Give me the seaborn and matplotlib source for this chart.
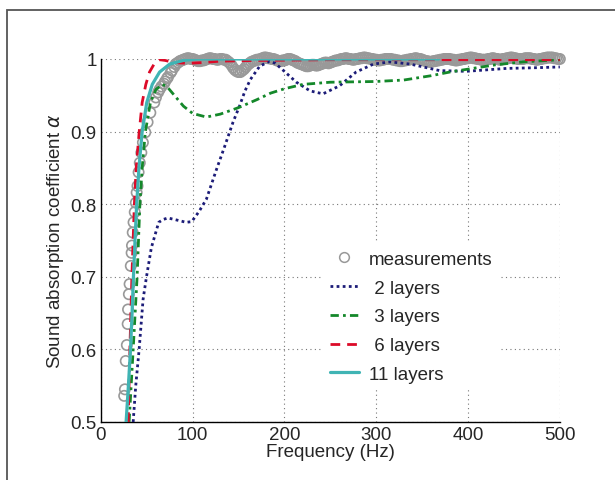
import numpy as np
import pandas as pd
import matplotlib
matplotlib.use("Agg")
import matplotlib.pyplot as plt
import seaborn as sns
from matplotlib.lines import Line2D
from matplotlib.patches import Rectangle

# measured absorption (read off the picture)
# steep part below 84 Hz
meas_f_low = [25.4, 26.2, 27.1, 28.3, 29.2, 29.6, 30.5, 31.3, 32.6, 33.5, 33.9, 34.7, 35.6,
              36.9, 38.1, 39.0, 39.9, 41.1, 42.4, 44.1, 45.8, 48.4, 50.9, 53.9, 58.2, 60.0,
              62.4, 64.0, 66.0, 68.8, 70.0, 72.0, 73.1, 76.0, 77.4, 80.0, 81.6, 82.0]
meas_a_low = [0.536, 0.545, 0.584, 0.606, 0.635, 0.655, 0.676, 0.690, 0.715, 0.733, 0.743,
              0.761, 0.775, 0.789, 0.802, 0.816, 0.825, 0.844, 0.857, 0.871, 0.885, 0.899,
              0.913, 0.926, 0.940, 0.947, 0.954, 0.958, 0.962, 0.966, 0.969, 0.973, 0.975,
              0.981, 0.984, 0.989, 0.993, 0.993]
# plateau, every 2 Hz from 84 to 500 Hz
meas_f_high = list(range(84, 501, 2))
meas_a_high = [
    0.995, 0.997, 0.998, 0.999, 1.000, 1.001, 1.001, 1.000, 1.000, 0.999,  # 84-102
    0.998, 0.997, 0.997, 0.998, 0.998, 0.999, 1.000, 1.001, 1.001, 1.000,  # 104-122
    1.000, 0.999, 0.999, 1.000, 1.000, 0.999, 0.999, 0.997, 0.995, 0.992,  # 124-142
    0.988, 0.985, 0.983, 0.982, 0.982, 0.984, 0.986, 0.989, 0.992, 0.994,  # 144-162
    0.996, 0.997, 0.998, 0.999, 0.999, 1.000, 1.001, 1.002, 1.002, 1.001,  # 164-182
    1.001, 1.000, 1.000, 0.999, 0.998, 0.997, 0.997, 0.998, 0.998, 0.999,  # 184-202
    1.000, 1.000, 0.999, 0.998, 0.997, 0.995, 0.994, 0.993, 0.992, 0.991,  # 204-222
    0.990, 0.990, 0.991, 0.992, 0.992, 0.991, 0.991, 0.992, 0.993, 0.994,  # 224-242
    0.995, 0.995, 0.994, 0.995, 0.996, 0.997, 0.998, 0.998, 0.999, 1.000,  # 244-262
    1.000, 1.001, 1.001, 1.000, 1.000, 0.999, 0.999, 1.000, 1.000, 1.001,  # 264-282
    1.001, 1.002, 1.002, 1.001, 1.001, 1.000, 1.000, 0.999, 0.999, 0.998,  # 284-302
    0.998, 0.999, 0.999, 1.000, 1.000, 1.000, 1.000, 0.999, 0.999, 0.998,  # 304-322
    0.998, 0.997, 0.997, 0.998, 0.998, 0.999, 0.999, 1.000, 1.000, 1.001,  # 324-342
    1.001, 1.000, 1.000, 0.999, 0.998, 0.997, 0.997, 0.996, 0.996, 0.997,  # 344-362
    0.997, 0.998, 0.998, 0.999, 0.999, 1.000, 1.000, 1.000, 1.000, 0.999,  # 364-382
    0.999, 0.998, 0.998, 0.999, 0.999, 1.000, 1.000, 1.001, 1.001, 1.002,  # 384-402
    1.002, 1.001, 1.001, 1.000, 1.000, 0.999, 0.999, 0.999, 0.999, 1.000,  # 404-422
    1.000, 1.001, 1.001, 1.000, 1.000, 0.999, 0.999, 1.000, 1.000, 1.001,  # 424-442
    1.001, 1.002, 1.002, 1.001, 1.001, 1.000, 1.000, 1.000, 1.000, 1.001,  # 444-462
    1.001, 1.001, 1.001, 1.000, 1.000, 0.999, 0.999, 1.000, 1.000, 1.001,  # 464-482
    1.001, 1.002, 1.002, 1.002, 1.002, 1.001, 1.001, 1.000, 1.000,         # 484-500
]

# model with 2 layers
f2 = [35.2, 38, 41.7, 46, 49.7, 55, 63, 68, 73, 80, 93, 99, 107, 115, 126, 135, 144, 151, 157,
      163, 173, 184, 190, 199, 213, 228, 242, 260, 278, 297, 315, 337, 369, 398, 442, 475, 500]
a2 = [0.5, 0.55, 0.6, 0.669, 0.70, 0.74, 0.775, 0.779, 0.781, 0.779, 0.775, 0.776, 0.79, 0.807,
      0.848, 0.88, 0.913, 0.935, 0.956, 0.972, 0.99, 0.997, 0.994, 0.984, 0.968, 0.956, 0.952,
      0.963, 0.982, 0.993, 0.996, 0.993, 0.984, 0.983, 0.987, 0.988, 0.989]

# model with 3 layers
f3 = [30.8, 35.2, 39.5, 42.5, 45, 48.5, 54, 60, 67, 72, 80, 90, 100, 115, 130, 150, 170, 185,
      200, 220, 250, 300, 330, 360, 380, 400, 430, 460, 500]
a3 = [0.5, 0.6, 0.7, 0.8, 0.85, 0.9, 0.94, 0.958, 0.965, 0.962, 0.95, 0.935, 0.925, 0.92, 0.924,
      0.933, 0.944, 0.953, 0.959, 0.965, 0.968, 0.969, 0.971, 0.977, 0.982, 0.986, 0.992, 0.996,
      0.999]

# model with 6 layers
f6 = [29.8, 31.6, 33.8, 36.5, 38.5, 41.8, 45, 49, 53, 58, 64, 70, 80, 95, 110, 130, 170, 250,
      350, 500]
a6 = [0.5, 0.6, 0.7, 0.8, 0.85, 0.9, 0.94, 0.965, 0.982, 0.993, 0.999, 0.998, 0.995, 0.994,
      0.995, 0.997, 0.998, 0.999, 0.999, 0.999]

# model with 11 layers
f11 = [27.5, 30, 32.3, 34, 35.5, 37.2, 39, 41.5, 45, 50, 56, 64, 75, 90, 105, 150, 250, 368]
a11 = [0.5, 0.55, 0.6, 0.65, 0.7, 0.75, 0.8, 0.85, 0.9, 0.94, 0.965, 0.982, 0.993, 0.998, 1.0,
       1.0, 1.0, 1.0]

labels = ["measurements", " 2 layers", " 3 layers", " 6 layers", "11 layers"]

sns.set_style("white")
plt.rcParams["font.family"] = ["Liberation Sans", "DejaVu Sans"]
plt.rcParams["font.size"] = 13.5
plt.rcParams["mathtext.fontset"] = "dejavusans"

c_meas = "#999999"
c2 = "#1c1c78"
c3 = "#14882a"
c6 = "#dc0a28"
c11 = "#40b4b4"

fig = plt.figure(figsize=(6.15, 4.81), dpi=100)
ax = fig.add_axes([0.164, 0.1206, 0.7463, 0.7547])

df_m = pd.DataFrame({"f": meas_f_low + meas_f_high, "a": meas_a_low + meas_a_high})
sns.scatterplot(data=df_m, x="f", y="a", marker="o", s=55, facecolors="none",
                edgecolor=c_meas, linewidth=1.2, ax=ax, zorder=2)
for coll in ax.collections:
    coll.set_clip_on(False)

ls2 = (0, (1, 1.2))
ls3 = (0, (3, 1.5, 1, 1.5))
ls6 = (0, (3.5, 2.5))
sns.lineplot(x=f2, y=a2, color=c2, lw=2.0, linestyle=ls2, ax=ax, zorder=3)
sns.lineplot(x=f3, y=a3, color=c3, lw=2.0, linestyle=ls3, ax=ax, zorder=3)
sns.lineplot(x=f6, y=a6, color=c6, lw=2.0, linestyle=ls6, ax=ax, zorder=3)
sns.lineplot(x=f11, y=a11, color=c11, lw=2.3, linestyle="-", ax=ax, zorder=4)

ax.set_xlim(0, 500)
ax.set_ylim(0.5, 1.0)
ax.set_xticks([0, 100, 200, 300, 400, 500])
ax.set_yticks([0.5, 0.6, 0.7, 0.8, 0.9, 1.0])
ax.set_yticklabels(["0.5", "0.6", "0.7", "0.8", "0.9", "1"])
ax.tick_params(direction="in", length=4, width=1, pad=3, labelsize=13.5)
ax.grid(True, linestyle=(0, (1, 3)), color="#777777", linewidth=0.8)
ax.set_axisbelow(True)
for s in ["top", "right"]:
    ax.spines[s].set_visible(False)
for s in ["left", "bottom"]:
    ax.spines[s].set_color("black")
    ax.spines[s].set_linewidth(1.0)

ax.set_xlabel("Frequency (Hz)", fontsize=13.5, labelpad=0)
ax.set_ylabel(r"Sound absorption coefficient $\alpha$", fontsize=13.5, labelpad=3)

handles = [
    Line2D([], [], marker="o", linestyle="none", markerfacecolor="none",
           markeredgecolor=c_meas, markersize=7, markeredgewidth=1.1),
    Line2D([], [], color=c2, lw=2.0, linestyle=ls2),
    Line2D([], [], color=c3, lw=2.0, linestyle=ls3),
    Line2D([], [], color=c6, lw=2.0, linestyle=ls6),
    Line2D([], [], color=c11, lw=2.3),
]
leg = ax.legend(handles, labels, loc="upper left", bbox_to_anchor=(0.462, 0.518),
                frameon=True, fancybox=False, edgecolor="none", facecolor="white",
                framealpha=1, handlelength=1.55, handletextpad=0.55, labelspacing=0.62,
                borderpad=0.4, fontsize=13.5)
leg.set_zorder(10)

# outer frame of the figure
fig.add_artist(Rectangle((7 / 615, -0.2), 1.2, 1.2 - 11 / 481, transform=fig.transFigure,
                         fill=False, edgecolor="#555555", linewidth=1.3, clip_on=False))

fig.savefig("out.png", dpi=100)
